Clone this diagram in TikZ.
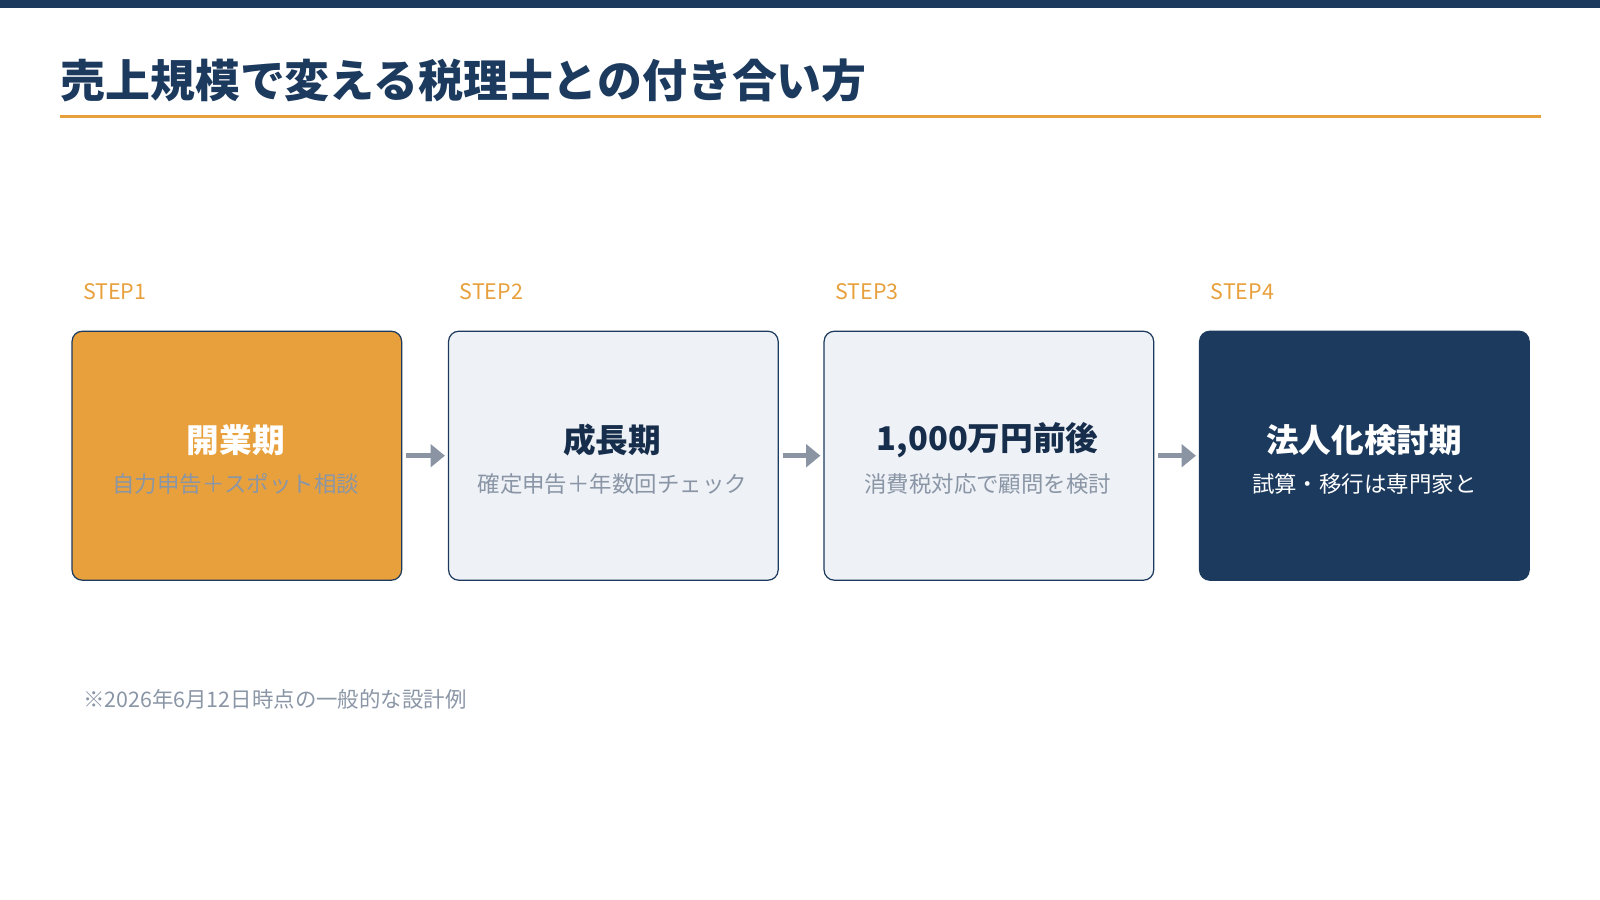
\documentclass[tikz,border=0pt]{standalone}
\usepackage{fontspec}
\setmainfont{Noto Sans CJK JP}
\usetikzlibrary{arrows.meta}
\definecolor{navy}{HTML}{1C3A5E}
\definecolor{org}{HTML}{E8A03C}
\definecolor{pale}{HTML}{EEF1F6}
\definecolor{gry}{HTML}{8A96A6}
\definecolor{agry}{HTML}{8A94A3}
\tikzset{x=1pt,y=-1pt,
 stepbox/.style={draw=navy,line width=1.2pt,rounded corners=10pt,minimum width=323pt,minimum height=244pt,anchor=north west},
 steplbl/.style={anchor=west,text=org,font=\fontsize{21}{21}\selectfont},
 ttl/.style={font=\fontsize{32}{32}\selectfont\bfseries},
 sub/.style={font=\fontsize{22}{22}\selectfont},
 arr/.style={draw=agry,line width=5pt,-{Triangle[length=14pt,width=22pt]}}}
\begin{document}
\begin{tikzpicture}
\useasboundingbox (0,0) rectangle (1568,882);
\fill[navy] (0,0) rectangle (1568,8);
\node[anchor=base west,inner sep=0,text=navy,font=\fontsize{44}{44}\selectfont\bfseries] (title) at (59,96) {売上規模で変える税理士との付き合い方};
\draw[org,line width=3pt] (59,114) -- (1510,114);
\foreach \i/\x in {1/70,2/439,3/807,4/1175}{
 \node[steplbl] (s\i) at (\x+8,286) {STEP\i};
}
\node[stepbox,fill=org] (b1) at (70,324) {};
\node[stepbox,fill=pale] (b2) at (439,324) {};
\node[stepbox,fill=pale] (b3) at (807,324) {};
\node[stepbox,fill=navy,draw=navy] (b4) at (1175,324) {};
\node[ttl,text=white] (t1) at (231,431) {開業期};
\node[sub,text=gry] (u1) at (231,474) {自力申告＋スポット相談};
\node[ttl,text=navy!80!black] (t2) at (600,431) {成長期};
\node[sub,text=gry] (u2) at (600,474) {確定申告＋年数回チェック};
\node[ttl,text=navy!80!black] (t3) at (968,431) {1,000万円前後};
\node[sub,text=gry] (u3) at (968,474) {消費税対応で顧問を検討};
\node[ttl,text=white] (t4) at (1337,431) {法人化検討期};
\node[sub,text=white] (u4) at (1337,474) {試算・移行は専門家と};
\draw[arr] (b1.east)++(4,0) -- ([xshift=-3pt]b2.west);
\draw[arr] (b2.east)++(4,0) -- ([xshift=-3pt]b3.west);
\draw[arr] (b3.east)++(4,0) -- ([xshift=-3pt]b4.west);
\node[anchor=west,text=gry,font=\fontsize{21}{21}\selectfont] (note) at (78,685) {※2026年6月12日時点の一般的な設計例};
\end{tikzpicture}
\end{document}
